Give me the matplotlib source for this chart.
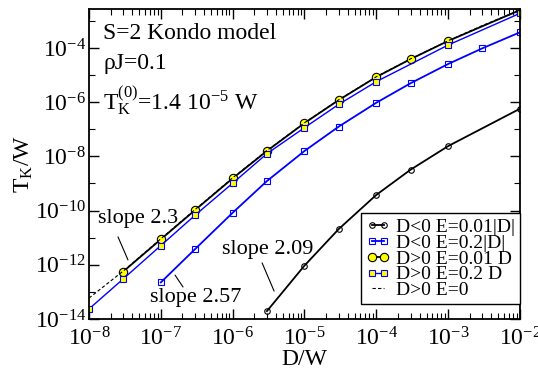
import numpy as np
import matplotlib
matplotlib.use('Agg')
import matplotlib.pyplot as plt
from matplotlib.ticker import LogLocator, FuncFormatter, NullFormatter

plt.rcParams['font.family'] = ['Liberation Serif', 'DejaVu Serif']
plt.rcParams['mathtext.fontset'] = 'custom'
plt.rcParams['mathtext.rm'] = 'Liberation Serif'
plt.rcParams['mathtext.it'] = 'Liberation Serif:italic'

# data (log10 of T_K/W)
x_neg_e001 = [3e-6, 1e-5, 3e-5, 1e-4, 3e-4, 1e-3, 1e-2]
log_neg_e001 = [-13.71, -12.03, -10.68, -9.42, -8.49, -7.62, -6.24]

x_neg_e02 = [1e-7, 3e-7, 1e-6, 3e-6, 1e-5, 3e-5, 1e-4, 3e-4, 1e-3, 3e-3, 1e-2]
log_neg_e02 = [-12.65, -11.42, -10.08, -8.91, -7.80, -6.90, -6.02, -5.30, -4.59, -4.01, -3.42]

x_pos_e001 = [3e-8, 1e-7, 3e-7, 1e-6, 3e-6, 1e-5, 3e-5, 1e-4, 3e-4, 1e-3, 1e-2]
log_pos_e001 = [-12.25, -11.06, -9.98, -8.81, -7.80, -6.77, -5.92, -5.07, -4.41, -3.74, -2.60]

x_pos_e02 = [1e-8, 3e-8, 1e-7, 3e-7, 1e-6, 3e-6, 1e-5, 3e-5, 1e-4, 1e-3, 1e-2]
log_pos_e02 = [-13.63, -12.52, -11.29, -10.17, -8.99, -7.90, -6.94, -6.08, -5.24, -3.89, -2.72]

x_pos_e0 = [1e-8, 3e-8, 1e-7, 3e-7, 1e-6, 3e-6, 1e-5, 3e-5, 1e-4, 3e-4, 1e-3, 3e-3, 1e-2]
log_pos_e0 = [-13.23, -12.23, -11.04, -9.96, -8.79, -7.78, -6.76, -5.91, -5.06, -4.40, -3.73, -3.17, -2.60]

fig = plt.figure(figsize=(5.38, 3.73), dpi=100)
ax = fig.add_axes([0.1654, 0.1448, 0.8011, 0.8311])

ax.plot(x_neg_e001, 10 ** np.array(log_neg_e001), '-o', color='black', lw=1.3,
        ms=4, mfc='none', mec='black', mew=0.8, label='D<0 E=0.01|D|')
ax.plot(x_neg_e02, 10 ** np.array(log_neg_e02), '-s', color='#0000ff', lw=1.3,
        ms=4.5, mfc='none', mec='#0000ff', mew=0.8, label='D<0 E=0.2|D|')
ax.plot(x_pos_e001, 10 ** np.array(log_pos_e001), '-o', color='black', lw=1.3,
        ms=6, mfc='#ffff00', mec='black', mew=0.8, label='D>0 E=0.01 D')
ax.plot(x_pos_e02, 10 ** np.array(log_pos_e02), '-s', color='#0000ff', lw=1.0,
        ms=5, mfc='#ffff00', mec='#0000ff', mew=0.8, label='D>0 E=0.2 D')
ax.plot(x_pos_e0, 10 ** np.array(log_pos_e0), '--', color='black', lw=0.8,
        dashes=(3, 2), label='D>0 E=0')

ax.set_xscale('log')
ax.set_yscale('log')
ax.set_xlim(1e-8, 1e-2)
ax.set_ylim(1e-14, 10 ** -2.56)

def pow_fmt(v, pos):
    e = int(round(np.log10(v)))
    return r'$\mathrm{10}^{\mathrm{%d}}$' % e

ax.xaxis.set_major_locator(LogLocator(base=10, numticks=20))
ax.xaxis.set_minor_locator(LogLocator(base=10, subs=np.arange(2, 10), numticks=20))
ax.xaxis.set_minor_formatter(NullFormatter())
ax.xaxis.set_major_formatter(FuncFormatter(pow_fmt))
ax.yaxis.set_major_locator(LogLocator(base=100, numticks=20))
ax.yaxis.set_minor_locator(LogLocator(base=10, subs=[], numticks=20))
ax.yaxis.set_minor_formatter(NullFormatter())
ax.yaxis.set_major_formatter(FuncFormatter(pow_fmt))

ax.tick_params(which='both', direction='in', top=True, right=True, labelsize=17)
ax.tick_params(which='major', length=7, width=1)
ax.tick_params(which='minor', length=4, width=0.8)
ax.tick_params(axis='x', pad=6)
ax.tick_params(axis='y', pad=2)
for s in ax.spines.values():
    s.set_linewidth(1.3)

ax.set_xlabel('D/W', fontsize=17, labelpad=-1)
ax.set_ylabel(r'$\mathrm{T_K}$/W', fontsize=17, labelpad=0)

ax.text(0.033, 0.92, 'S=2 Kondo model', transform=ax.transAxes, fontsize=17, va='center')
ax.text(0.033, 0.825, 'ρJ=0.1', transform=ax.transAxes, fontsize=17, va='center')
ax.text(0.033, 0.705, r'$\mathrm{T_K^{(0)}}$=1.4 10$^{\mathrm{-5}}$ W', transform=ax.transAxes,
        fontsize=17, va='center')

# slope labels and their pointer lines
ax.text(1.33e-8, 10 ** -10.31, 'slope 2.3', fontsize=16, va='center', ha='left')
ax.text(7.1e-8, 10 ** -13.19, 'slope 2.57', fontsize=16, va='center', ha='left')
ax.text(7.1e-7, 10 ** -11.42, 'slope 2.09', fontsize=16, va='center', ha='left')
line_kw = dict(arrowstyle='-', lw=0.8, color='black', shrinkA=0, shrinkB=0)
ax.annotate('', xy=(10 ** -7.457, 10 ** -11.82), xytext=(10 ** -7.596, 10 ** -10.97),
            arrowprops=line_kw)
ax.annotate('', xy=(10 ** -6.691, 10 ** -12.82), xytext=(10 ** -6.802, 10 ** -12.38),
            arrowprops=line_kw)
ax.annotate('', xy=(10 ** -5.423, 10 ** -12.97), xytext=(10 ** -5.59, 10 ** -11.93),
            arrowprops=line_kw)

leg = ax.legend(loc='lower right', bbox_to_anchor=(1.0, 0.048), borderaxespad=0,
                fontsize=14, numpoints=2, handlelength=1.25, handletextpad=0.3,
                labelspacing=-0.09, borderpad=0.25, fancybox=False, framealpha=1)
leg.get_frame().set_edgecolor('black')
leg.get_frame().set_linewidth(1.0)

fig.savefig('out.png', dpi=100)
